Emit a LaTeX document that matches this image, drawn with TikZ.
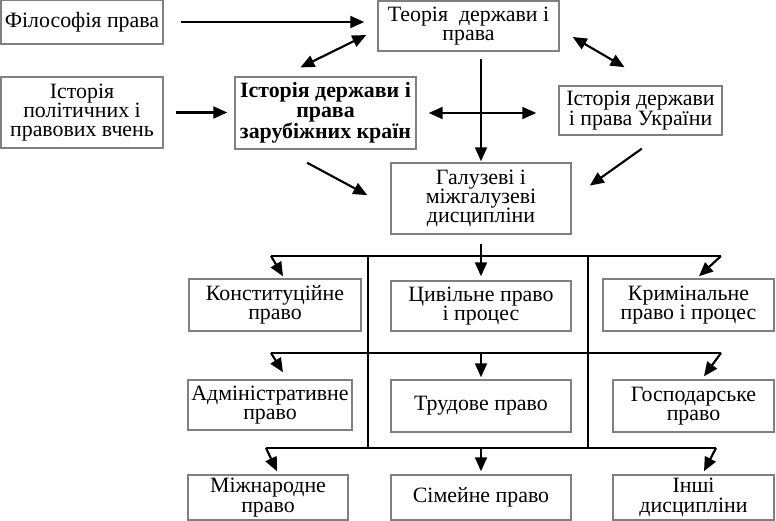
\documentclass[tikz,border=0pt]{standalone}
\usepackage{fontspec}
\setmainfont{Liberation Serif}
\usetikzlibrary{arrows.meta}
\tikzset{>={Triangle[length=10.5pt,width=9pt]},
box/.style={draw=black!50, line width=1.1pt, align=center, inner sep=1pt,
  font=\fontsize{16.4}{14.5}\selectfont},
bold/.style={font=\fontsize{16.4}{14.5}\selectfont\bfseries},
wh/.style 2 args={minimum width=#1*0.75pt, minimum height=#2*0.75pt},
conn/.style={line width=1.6pt}}

\begin{document}
\begin{tikzpicture}[x=0.75pt,y=-0.75pt]
\useasboundingbox (0,0) rectangle (776,521);
%top part
\node[box,wh={162}{44}] (filos) at (82,22) {Філософія права};
\node[box,wh={181}{50}] (teoria) at (468.5,26) {Теорія \ держави і\\права};
\node[box,wh={162}{71}] (polit) at (82,112.5) {Історія\\політичних і\\правових вчень};
\node[box,bold,wh={181}{72}] (zarub) at (325.5,113) {Історія держави і\\права\\зарубіжних країн};
\node[box,wh={163}{49}] (ukr) at (640.5,110.5) {Історія держави\\і права України};
\node[box,wh={180}{71}] (galuz) at (481,198.5) {Галузеві і\\міжгалузеві\\дисципліни};
%branches
\node[box,wh={172}{52}] (konst) at (275,305) {Конституційне\\право};
\node[box,wh={180}{50}] (cyvil) at (481,306) {Цивільне право\\і процес};
\node[box,wh={171}{52}] (krym) at (688.5,305) {Кримінальне\\право і процес};
\node[box,wh={164}{50}] (admin) at (270,405) {Адміністративне\\право};
\node[box,wh={180}{52}] (trud) at (481,406) {Трудове право};
\node[box,wh={161}{52}] (hosp) at (693.5,406) {Господарське\\право};
\node[box,wh={160}{45}] (mizhn) at (268,497.5) {Міжнародне\\право};
\node[box,wh={180}{45}] (simei) at (481,497.5) {Сімейне право};
\node[box,wh={161}{45}] (inshi) at (693.5,497.5) {Інші\\дисципліни};

\draw[conn,->,shorten <=12.75pt,shorten >=9.75pt] (filos.east) -- (filos.east -| teoria.west);
\draw[conn,<->,shorten <=15pt,shorten >=9.2pt] ([shift={(-43,0)}]zarub.north) -- ([shift={(0,3.6)}]teoria.west);
\draw[conn,->,shorten <=9pt,shorten >=5.25pt] (polit.east) -- (polit.east -| zarub.west);
\draw[conn,->,shorten <=5.25pt,shorten >=0.75pt] (teoria.south -| galuz.north) -- (galuz.north);
\draw[conn,<->,shorten <=9pt,shorten >=16.5pt] (zarub.east) -- (zarub.east -| ukr.west);
\draw[conn,->,shorten <=20.5pt,shorten >=19.6pt] ([shift={(-42.5,0)}]zarub.south) -- ([shift={(0,9)}]galuz.west);
\draw[conn,<->,shorten <=11.3pt,shorten >=26.9pt] ([shift={(0,3.4)}]teoria.east) -- ([shift={(15,0)}]ukr.north);
\draw[conn,->,shorten <=16.7pt,shorten >=16.7pt] ([shift={(19.5,0)}]ukr.south) -- (galuz.east);

%bus lines
\coordinate (r1l) at (271,256);
\coordinate (r1r) at (721,256);
\coordinate (r2l) at (271,353);
\coordinate (r2r) at (721,353);
\coordinate (r3l) at (266,448);
\coordinate (r3r) at (716,448);
\coordinate (c1) at (368,256);
\coordinate (c2) at (588,256);
\draw[conn] (r1l) -- (r1r) (r2l) -- (r2r) (r3l) -- (r3r);
\draw[conn] (c1) -- (c1 |- r3l) (c2) -- (c2 |- r3l);

\draw[conn,->,shorten <=6.75pt,shorten >=3pt] (galuz.south) -- (cyvil.north);
\draw[conn,->] (r1l) -- ([shift={(8,-2)}]konst.north);
\draw[conn,->] (r1r) -- ([shift={(10.5,-2)}]krym.north);
\draw[conn,->] (r2l) -- ([shift={(13,-7)}]admin.north);
\draw[conn,->] (r2l -| trud.north) -- ([shift={(0,-2)}]trud.north);
\draw[conn,->] (r2r) -- ([shift={(10.5,-3)}]hosp.north);
\draw[conn,->] (r3l) -- ([shift={(9,-3)}]mizhn.north);
\draw[conn,->] (r3l -| simei.north) -- ([shift={(0,-3)}]simei.north);
\draw[conn,->] (r3r) -- ([shift={(10.5,-3)}]inshi.north);
\end{tikzpicture}
\end{document}
